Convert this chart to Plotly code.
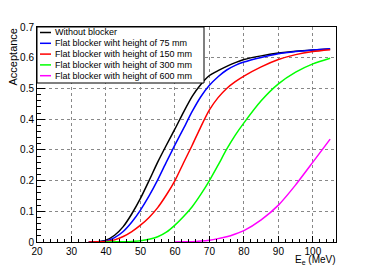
import plotly.graph_objects as go

# ---------------- data ----------------
e_black = [35, 37.5, 40, 42.5, 45, 47.5, 50, 52.5, 55, 57.5, 60, 62.5, 65, 67.5, 70, 72.5, 75, 77.5, 80, 85, 90, 95, 100, 105]
acc_black = [0.0, 0.001, 0.006, 0.022, 0.05, 0.092, 0.142, 0.2, 0.26, 0.315, 0.368, 0.423, 0.474, 0.513, 0.542, 0.558, 0.572, 0.584, 0.594, 0.606, 0.615, 0.621, 0.625, 0.628]

e_blue = [35, 37.5, 40, 42.5, 45, 47.5, 50, 52.5, 55, 57.5, 60, 62.5, 65, 67.5, 70, 72.5, 75, 77.5, 80, 85, 90, 95, 100, 105]
acc_blue = [0.0, 0.0005, 0.003, 0.014, 0.034, 0.065, 0.104, 0.15, 0.202, 0.26, 0.316, 0.37, 0.425, 0.473, 0.51, 0.538, 0.56, 0.575, 0.586, 0.601, 0.613, 0.62, 0.625, 0.629]

e_red = [35, 37.5, 40, 42.5, 45, 47.5, 50, 52.5, 55, 57.5, 60, 62.5, 65, 67.5, 70, 72.5, 75, 77.5, 80, 85, 90, 95, 100, 105]
acc_red = [0.0, 0.0005, 0.002, 0.007, 0.018, 0.034, 0.055, 0.08, 0.112, 0.153, 0.2, 0.258, 0.315, 0.375, 0.43, 0.47, 0.5, 0.522, 0.54, 0.57, 0.594, 0.61, 0.62, 0.626]

e_green = [40, 42.5, 45, 47.5, 50, 52.5, 55, 57.5, 60, 62.5, 65, 67.5, 70, 72.5, 75, 77.5, 80, 85, 90, 95, 100, 105]
acc_green = [0.0, 0.0005, 0.001, 0.002, 0.004, 0.009, 0.017, 0.032, 0.055, 0.083, 0.115, 0.155, 0.2, 0.25, 0.302, 0.348, 0.388, 0.46, 0.515, 0.553, 0.58, 0.598]

e_magenta = [60, 62.5, 65, 67.5, 70, 72.5, 75, 77.5, 80, 85, 90, 95, 100, 105]
acc_magenta = [0.0, 0.0005, 0.001, 0.003, 0.006, 0.011, 0.017, 0.026, 0.037, 0.072, 0.12, 0.186, 0.26, 0.335]

series_names = [
    "Without blocker",
    "Flat blocker wiht height of 75 mm",
    "Flat blocker with height of 150 mm",
    "Flat blocker with height of 300 mm",
    "Flat blocker with height of 600 mm",
]
series_colors = ["#000000", "#0000ff", "#ff0000", "#00ff00", "#ff00ff"]
series_x = [e_black, e_blue, e_red, e_green, e_magenta]
series_y = [acc_black, acc_blue, acc_red, acc_green, acc_magenta]

x_ticks = [20, 30, 40, 50, 60, 70, 80, 90, 100]
y_ticks = [0, 0.1, 0.2, 0.3, 0.4, 0.5, 0.6, 0.7]
y_ticklabels = ["0", "0.1", "0.2", "0.3", "0.4", "0.5", "0.6", "0.7"]

# ---------------- layout geometry (page body has an 8px margin) ----------------
OFF = 8
W, H = 374 - OFF, 269 - OFF
PL, PR, PT, PB = 37, 336, 27, 242  # plot box in window pixels
L, T = PL - OFF, PT - OFF
PW, PH = PR - PL, PB - PT
R, B = W - L - PW, H - T - PH
FONT = "Liberation Sans, Arial, Helvetica, sans-serif"


def px(xp):
    return (xp - PL) / PW


def py(yp):
    return 1 - (yp - PT) / PH


fig = go.Figure()
for xs, ys, name, col in zip(series_x, series_y, series_names, series_colors):
    fig.add_trace(go.Scatter(
        x=xs, y=ys, mode="lines", name=name,
        line=dict(color=col, width=1.5, shape="spline", smoothing=0.6),
        showlegend=False,
    ))

# manual ROOT-like legend
shapes = [dict(type="rect", xref="paper", yref="paper",
               x0=px(37), x1=px(204), y0=py(83), y1=py(27),
               line=dict(color="black", width=1), fillcolor="white", layer="above")]
annotations = []
for i, (name, col) in enumerate(zip(series_names, series_colors)):
    yc = 32.5 + i * 10.8
    shapes.append(dict(type="line", xref="paper", yref="paper",
                       x0=px(40), x1=px(51), y0=py(yc), y1=py(yc),
                       line=dict(color=col, width=1.5), layer="above"))
    annotations.append(dict(xref="paper", yref="paper", x=px(53), y=py(yc),
                            text=name, showarrow=False, xanchor="left", yanchor="middle",
                            font=dict(family=FONT, size=9, color="black")))

# axis titles
annotations.append(dict(xref="paper", yref="paper", x=px(12), y=py(27),
                        text="Acceptance", showarrow=False, textangle=-90,
                        xanchor="center", yanchor="top",
                        font=dict(family=FONT, size=11, color="black")))
annotations.append(dict(xref="paper", yref="paper", x=px(338), y=py(260),
                        text="E<sub>e</sub> (MeV)", showarrow=False,
                        xanchor="right", yanchor="middle",
                        font=dict(family=FONT, size=10, color="black")))

fig.update_layout(
    width=W, height=H,
    margin=dict(l=L, r=R, t=T, b=B, pad=0),
    paper_bgcolor="white", plot_bgcolor="white",
    font=dict(family=FONT, size=10, color="black"),
    shapes=shapes, annotations=annotations,
    showlegend=False,
)
fig.update_xaxes(
    range=[20, 106.7], tickvals=x_ticks, ticks="inside", ticklen=6, tickcolor="black",
    showline=True, linecolor="black", linewidth=1, mirror=True,
    showgrid=True, gridcolor="#888888", griddash="dot", gridwidth=1, zeroline=False,
    minor=dict(dtick=2, ticks="inside", ticklen=3, tickcolor="black", showgrid=False),
    tickfont=dict(family=FONT, size=10, color="black"),
)
fig.update_yaxes(
    range=[0, 0.7], tickvals=y_ticks, ticktext=y_ticklabels, ticks="inside", ticklen=8, tickcolor="black",
    showline=True, linecolor="black", linewidth=1, mirror=True,
    showgrid=True, gridcolor="#888888", griddash="dot", gridwidth=1, zeroline=False,
    minor=dict(dtick=0.02, ticks="inside", ticklen=4, tickcolor="black", showgrid=False),
    tickfont=dict(family=FONT, size=10, color="black"),
)

fig.write_html("out.html")
